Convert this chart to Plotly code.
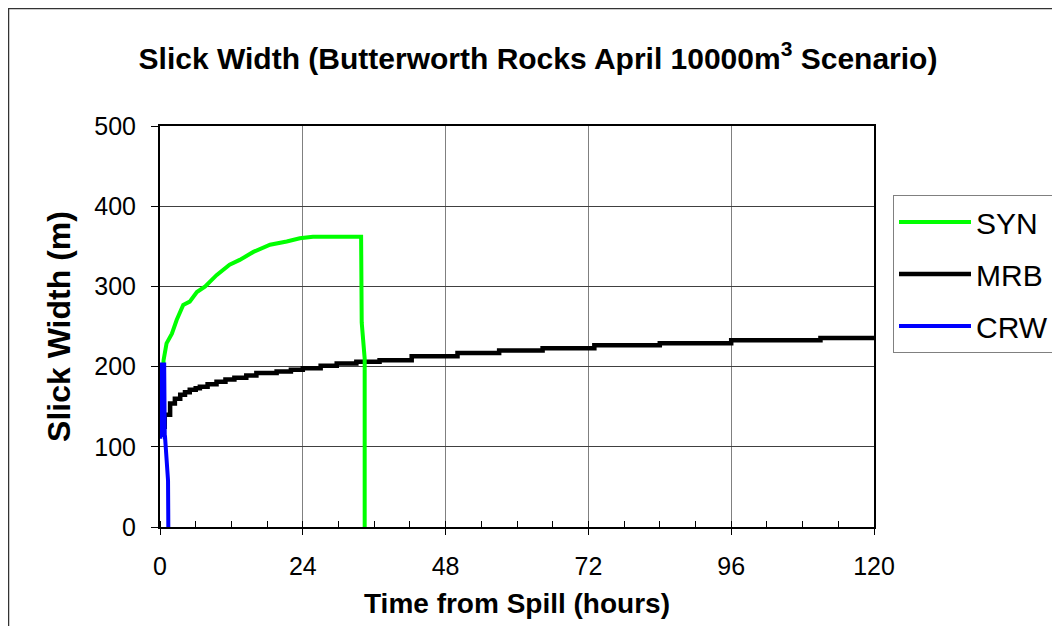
import plotly.graph_objects as go

# ---- data ----
syn_t = [0, 0.3, 0.6, 1.1, 2.0, 2.8, 3.9, 5.0, 6.2, 7.6, 9.5, 11.7, 13.4, 15.7, 18.5,
         21.3, 23.5, 25.7, 33.8, 33.9, 34.4, 34.4]
syn_w = [120, 170, 208, 229, 241, 258, 277, 281, 293, 300, 314, 327, 333, 343, 352,
         356, 360, 362, 362, 255, 210, 0]

mrb_t = [0.3, 0.8, 1.7, 2.5, 3.4, 4.2, 5.0, 6.0, 6.7, 8.0, 9.5, 11.0, 12.5, 14.5, 16.2,
         19.6, 22.0, 24.0, 27.0, 29.7, 33.0, 36.9, 42.3, 50.0, 57.0, 64.3, 73.0, 84.0,
         96.0, 111.0, 120.0]
mrb_w = [125, 140, 154, 160, 165, 168, 171, 173, 175, 178, 181, 184, 186, 189, 192,
         194, 196, 198, 201, 204, 206, 208, 213, 217, 220, 223, 226.5, 229,
         233, 235.6, 235.6]

crw_t = [0, 0.1, 0.2, 0.3, 0.4, 0.5, 0.6, 0.7, 0.8, 0.85, 1.35, 1.4]
crw_w = [110, 205, 112, 205, 115, 205, 118, 205, 112, 112, 58, 0]

x_ticks = [0, 24, 48, 72, 96, 120]
y_ticks = [0, 100, 200, 300, 400, 500]

title_text = "<b>Slick Width (Butterworth Rocks April 10000m<sup>3</sup> Scenario)</b>"

fig = go.Figure()
fig.add_trace(go.Scatter(x=mrb_t, y=mrb_w, name="MRB", mode="lines", line_shape="hv",
                         line=dict(color="#000000", width=4.5), legendrank=2,
                         legendgroup="MRB"))
fig.add_trace(go.Scatter(x=syn_t, y=syn_w, name="SYN", mode="lines",
                         line=dict(color="#00FF00", width=4), legendrank=1,
                         legendgroup="SYN"))
fig.add_trace(go.Scatter(x=crw_t, y=crw_w, name="CRW", mode="lines",
                         line=dict(color="#0000FF", width=4), legendrank=3,
                         legendgroup="CRW"))

# page offset of the figure (default body margin)
OFF = 8
W, H = 1052, 618
L, R, T, B = 152, 186, 118, 99
pw, ph = W - L - R, H - T - B

def px_x(p):  # page pixel -> paper fraction
    return (p - OFF - L) / pw

def px_y(p):
    return (OFF + H - B - p) / ph

fig.update_layout(
    width=W, height=H,
    margin=dict(l=L, r=R, t=T, b=B, autoexpand=False),
    paper_bgcolor="white", plot_bgcolor="white",
    font=dict(family="Liberation Sans, Arial, sans-serif", color="black"),
    title=dict(text=title_text, x=px_x(538), xref="paper", xanchor="center",
               y=1 - (58 - OFF) / H, yanchor="middle",
               font=dict(size=30, color="black")),
    showlegend=True,
    legend=dict(x=px_x(893), y=px_y(195), xanchor="left", yanchor="top",
                bordercolor="#808080", borderwidth=1, bgcolor="white",
                font=dict(size=30, color="black"), tracegroupgap=10,
                traceorder="grouped", itemwidth=72),
    xaxis=dict(range=[0, 120], tickvals=x_ticks, ticktext=[str(v) for v in x_ticks],
               automargin=False,
               showgrid=True, gridcolor="#808080", gridwidth=1,
               showline=True, linecolor="black", linewidth=2, mirror=True,
               ticks="outside", ticklen=6, tickcolor="black", tickwidth=1,
               minor=dict(dtick=6, tick0=0, ticks="inside", ticklen=6,
                          tickcolor="black", showgrid=False),
               tickfont=dict(size=25), zeroline=False, ticklabelstandoff=10,
               title=dict(text="<b>Time from Spill (hours)</b>", font=dict(size=28),
                          standoff=14)),
    yaxis=dict(range=[0, 500], tickvals=y_ticks, ticktext=[str(v) for v in y_ticks],
               automargin=False,
               showgrid=True, gridcolor="#404040", gridwidth=1,
               showline=True, linecolor="black", linewidth=2, mirror=True,
               ticks="outside", ticklen=7, tickcolor="black", tickwidth=1,
               tickfont=dict(size=25), zeroline=False, ticklabelstandoff=10,
               title=dict(text="<b>Slick Width (m)</b>", font=dict(size=32),
                          standoff=14)),
)

# outer chart-area border (left and top edges visible in the reference)
fig.add_shape(type="line", xref="paper", yref="paper",
              x0=px_x(7), x1=px_x(OFF + W + 5), y0=px_y(8.5), y1=px_y(8.5),
              line=dict(color="#333333", width=1.5))
fig.add_shape(type="line", xref="paper", yref="paper",
              x0=px_x(8.5), x1=px_x(8.5), y0=px_y(8), y1=px_y(OFF + H + 5),
              line=dict(color="#333333", width=1.5))

fig.write_html("out.html")
